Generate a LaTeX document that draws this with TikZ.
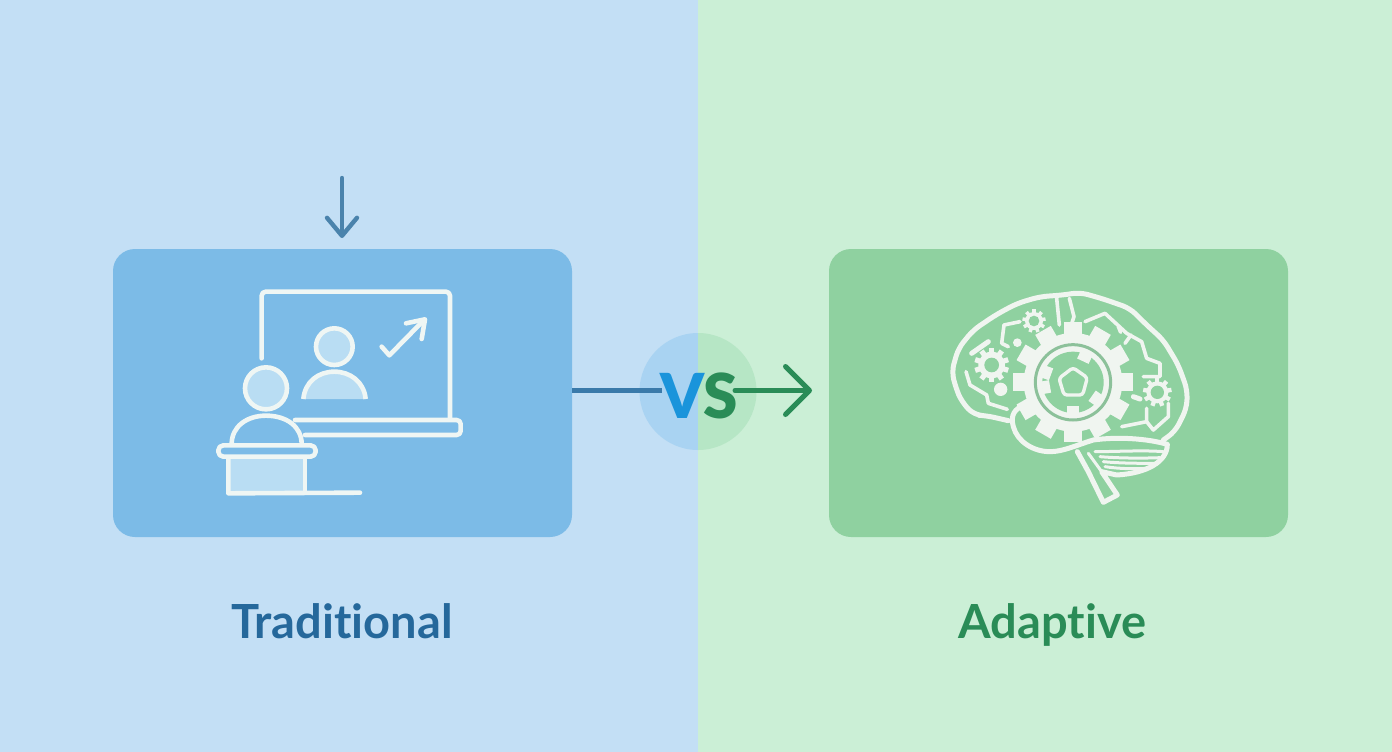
\documentclass[tikz,border=0pt]{standalone}
\usepackage{fontspec}
\setmainfont{Lato}[BoldFont={Lato Bold},Ligatures=NoCommon]
\newfontfamily\vsfont{Lato Black}
\usetikzlibrary{arrows.meta}
\definecolor{bgL}{HTML}{C3DFF5}
\definecolor{bgR}{HTML}{CBEFD6}
\definecolor{cardL}{HTML}{7CBBE7}
\definecolor{cardR}{HTML}{8FD1A0}
\definecolor{circL}{HTML}{A9D3F2}
\definecolor{circR}{HTML}{B6E6C5}
\definecolor{txtL}{HTML}{25689B}
\definecolor{txtR}{HTML}{2A8C57}
\definecolor{vcol}{HTML}{1A94DB}
\definecolor{lineL}{HTML}{3A7AAA}
\definecolor{lineT}{HTML}{4A83AC}
\definecolor{ink}{HTML}{EFF6F4}
\definecolor{soft}{HTML}{B9DDF3}
\definecolor{inkG}{HTML}{F0F5F0}
\tikzset{
  cardbox/.style={rounded corners=22pt,minimum width=459pt,minimum height=288pt,inner sep=0pt,draw=none},
  label/.style={font=\bfseries\fontsize{47}{50}\selectfont,inner sep=0pt,anchor=base},
  barbbig/.style={line width=5pt,line cap=round,-{Straight Barb[length=24pt,width=48pt,line width=5pt,round]}},
  barbsmall/.style={line width=4.4pt,line cap=round,-{Straight Barb[length=18pt,width=30pt,line width=4.4pt,round]}},
  icon/.style={draw=ink,line width=4.6pt,line join=round,line cap=round},
  brain/.style={draw=inkG,line width=5pt,line join=round,line cap=round},
  thin brain/.style={draw=inkG,line width=3pt,line join=round,line cap=round},
}
\newcommand{\gearshape}[5]{% x y outer root teeth
  \fill[inkG] (#1,#2) circle[radius=#4];
  \foreach \k in {1,...,#5}{
    \fill[inkG,rotate around={\k*360/#5:(#1,#2)}] ({#1-#3*0.15},{#2-#3}) rectangle ({#1+#3*0.15},{#2});
  }
}
\begin{document}
\begin{tikzpicture}[x=1pt,y=-1pt]
\useasboundingbox (0,0) rectangle (1392,752);
\fill[bgL] (0,0) rectangle (698,752);
\fill[bgR] (698,0) rectangle (1392,752);

\node[cardbox,fill=cardL] (cardA) at (342.5,393) {};
\node[cardbox,fill=cardR] (cardB) at (1058.5,393) {};

\node[label,text=txtL] (labA) at (342,638) {Traditional};
\node[label,text=txtR] (labB) at (1052.5,638) {Adaptive};

% VS badge
\begin{scope}
  \clip (600,300) rectangle (698,480);
  \fill[circL] (698,391.5) circle[radius=58.5];
\end{scope}
\begin{scope}
  \clip (698,300) rectangle (800,480);
  \fill[circR] (698,391.5) circle[radius=58.5];
\end{scope}
\coordinate (lineEnd) at (662,390.5);
\coordinate (arrStart) at (735,390.5);
\coordinate (arrEnd) at (812,390.5);
\coordinate (topStart) at (342,178);
\coordinate (topEnd) at (342,238);
\draw[lineL,line width=5pt] (cardA.east |- lineEnd) -- (lineEnd);
\draw[barbbig,txtR] (arrStart) -- (arrEnd);
\draw[barbsmall,lineT] (topStart) -- (topEnd);
\node[inner sep=0pt,font=\vsfont\fontsize{62}{62}\selectfont] (vs) at (699,396) {\textcolor{vcol}{V}\kern-1pt\textcolor{txtR}{S}};

% Traditional icon: zoom coordinates (3x)
\begin{scope}[shift={(200,270)},scale=0.33333]
  \draw[icon,rounded corners=4pt] (185,265) -- (185,65) -- (750,65) -- (750,445);
  \draw[icon,rounded corners=4pt] (285,450) -- (782,450) -- (782,495) -- (315,495);
  % far person
  \draw[icon,fill=soft] (403,230) circle[radius=55];
  \fill[soft] (310,387) .. controls (315,335) and (355,305) .. (403,305) .. controls (450,305) and (492,335) .. (497,387) -- cycle;
  \draw[icon,line cap=butt] (310,387) .. controls (315,335) and (355,305) .. (403,305) .. controls (450,305) and (492,335) .. (497,387);
  % tick arrow
  \draw[icon] (545,230) -- (568,256) -- (672,150);
  \draw[icon] (618,160) -- (675,148) -- (665,207);
  % near person
  \draw[icon,fill=soft] (198,355) circle[radius=63];
  \draw[icon] (95,522) .. controls (95,470) and (140,437) .. (198,437) .. controls (260,437) and (305,470) .. (305,522);
  % podium
  \fill[soft] (85,562) rectangle (315,670);
  \draw[icon,rounded corners=5pt] (55,526) rectangle (347,560);
  \draw[icon] (85,562) -- (85,670) -- (480,668);
  \draw[icon] (315,562) -- (315,668);
\end{scope}

% Adaptive icon: zoom coordinates (3x)
\begin{scope}[shift={(930,275)},scale=0.33333]
  \draw[brain] (282,392) .. controls (255,400) and (240,420) .. (250,455)
     .. controls (262,500) and (310,530) .. (360,530)
     .. controls (400,530) and (440,510) .. (490,495)
     .. controls (560,485) and (650,490) .. (712,508)
     .. controls (712,560) and (650,595) .. (560,600)
     -- (515,590) -- (562,660) -- (520,682) -- (475,590) -- (442,530);
  \draw[brain,rounded corners=8pt] (235,437) -- (170,422) -- (132,420) -- (95,380) -- (78,340) -- (65,290)
     -- (85,220) -- (130,165) -- (200,118) -- (262,85) -- (330,65) -- (400,60) -- (450,52)
     -- (520,72) -- (600,100) -- (650,150) -- (700,195) -- (745,270) -- (772,345) -- (770,400)
     -- (735,470) -- (700,495);
  % cerebellum folds
  \draw[thin brain] (495,530) .. controls (560,530) and (640,525) .. (700,530);
  \draw[thin brain] (510,545) .. controls (570,550) and (640,550) .. (690,548);
  \draw[thin brain] (520,560) .. controls (570,565) and (630,565) .. (675,565);
  \draw[thin brain] (525,575) .. controls (570,582) and (620,582) .. (650,580);
  \draw[thin brain] (475,535) -- (515,590);
  % circuits
  \draw[thin brain,line width=3.6pt] (108,290) -- (120,330) -- (170,360) -- (175,385) -- (232,403);
  \draw[brain] (125,235) -- (175,200);
  \draw[thin brain,line width=3.6pt] (270,140) -- (222,150) -- (215,205) -- (235,215);
  \draw[thin brain,line width=3.6pt] (380,70) -- (388,150);
  \draw[thin brain,line width=3.6pt] (418,70) -- (432,125) -- (420,160);
  \draw[thin brain,line width=3.6pt] (465,140) -- (525,115) -- (590,175) -- (635,200) -- (650,250) -- (690,265) -- (690,305) -- (640,305);
  \draw[thin brain,line width=3.6pt] (565,155) -- (572,172);
  \draw[thin brain,line width=3.6pt] (603,180) -- (585,205);
  \draw[brain] (610,365) -- (630,372);
  \draw[thin brain,line width=3.6pt] (650,400) -- (650,440) -- (575,455);
  \draw[thin brain,line width=3.6pt] (650,440) -- (670,465) -- (715,425) -- (715,385);
  \fill[inkG] (212,343) circle[radius=20];
  \fill[inkG] (262,203) circle[radius=13];
  % small gears
  \gearshape{185}{270}{52}{40}{10}
  \fill[cardR] (185,270) circle[radius=22];
  \gearshape{312}{138}{35}{27}{9}
  \fill[cardR] (312,138) circle[radius=16];
  \gearshape{682}{352}{43}{33}{9}
  \fill[cardR] (682,352) circle[radius=20];
  % main gear
  \gearshape{429}{322}{180}{148}{12}
  \draw[cardR!80!gray,line width=3pt] (429,322) circle[radius=113];
  \fill[cardR] (429,322) circle[radius=92];
  \foreach \a in {-115,-20,10,90,145}{
    \fill[inkG,rotate around={\a+90:(429,322)}] (410,228) rectangle (448,252);
  }
  \draw[brain,line width=3.4pt,rounded corners=3pt] (429,278) -- (472,308) -- (458,360) -- (402,360) -- (387,310) -- cycle;
\end{scope}
\end{tikzpicture}
\end{document}
